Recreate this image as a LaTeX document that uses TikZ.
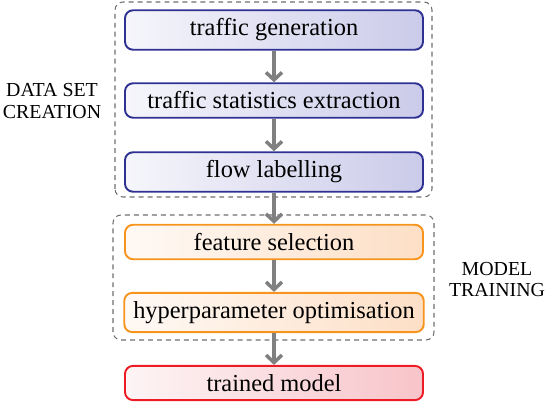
\documentclass[tikz,border=0pt]{standalone}
\usepackage{fontspec}
\setmainfont{Liberation Serif}
\usetikzlibrary{arrows.meta}

\definecolor{navyline}{HTML}{2E3192}
\definecolor{navyfill}{HTML}{CBCBEA}
\definecolor{orangeline}{HTML}{F7941D}
\definecolor{orangefill}{HTML}{FDDFC6}
\definecolor{redline}{HTML}{ED1C24}
\definecolor{redfill}{HTML}{F7C4C9}
\definecolor{groupgray}{HTML}{6D6E71}
\definecolor{flowgray}{HTML}{808080}

\begin{document}
\begin{tikzpicture}[
    stagebox/.style = {shape = rectangle, rounded corners = 0.16cm, line width = 1.1pt,
                       minimum width = 5.96cm, inner xsep = 0.18cm, inner ysep = 0.17cm,
                       font = \fontsize{13.9}{16}\selectfont},
    creationbox/.style = {stagebox, draw = navyline, left color = navyfill!18!white, right color = navyfill},
    trainingbox/.style = {stagebox, draw = orangeline, left color = orangefill!18!white, right color = orangefill},
    resultbox/.style   = {stagebox, draw = redline, left color = redfill!18!white, right color = redfill},
    group/.style = {draw = groupgray, line width = 0.6pt, rounded corners = 0.16cm,
                    dash pattern = on 2.8pt off 2.3pt},
    grouplabel/.style = {align = center, font = \fontsize{11.3}{11.3}\selectfont},
    flow/.style = {draw = flowgray, line width = 2pt,
                   -{Straight Barb[length = 0.15cm, width = 0.32cm]}}
  ]
  \useasboundingbox (0, 0) rectangle (11, 8.02);

  % ------------------------------------------------------------------------
  % Data set creation
  \draw[group] (2.30, 4.08) rectangle (8.64, 7.98);
  \node[grouplabel] at (1.04, 6.00) (creation) {DATA SET\\[0.8pt]CREATION};

  \node[creationbox] at (5.48, 7.42) (gen)   {traffic generation};
  \node[creationbox] at (5.48, 6.01) (stats) {traffic statistics extraction};
  \node[creationbox] at (5.48, 4.58) (label) {flow labelling};

  % ------------------------------------------------------------------------
  % Model training
  \draw[group] (2.26, 1.22) rectangle (8.68, 3.72);
  \node[grouplabel] at (9.94, 2.43) (training) {MODEL\\[0.8pt]TRAINING};

  \node[trainingbox] at (5.48, 3.18) (feat)  {feature selection};
  \node[trainingbox] at (5.48, 1.77) (hyper) {hyperparameter optimisation};

  \node[resultbox] at (5.48, 0.36) (model) {trained model};

  \draw[flow]
    (gen) edge (stats)
    (stats) edge (label)
    (label) edge (feat)
    (feat) edge (hyper)
    (hyper) edge (model)
  ;
\end{tikzpicture}
\end{document}
